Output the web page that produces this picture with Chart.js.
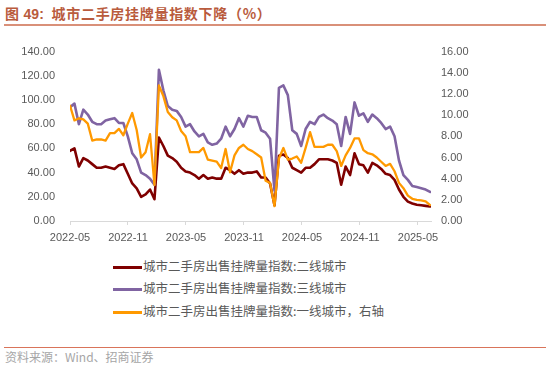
<!DOCTYPE html>
<html>
<head>
<meta charset="utf-8">
<script src="https://cdn.jsdelivr.net/npm/chart.js@4/dist/chart.umd.min.js"></script>
<style>
  html, body { margin:0; padding:0; background:#fff; }
  #wrap { position:relative; width:550px; height:379px; overflow:hidden; font-family:"Liberation Sans","Noto Sans CJK SC",sans-serif; }
  #title { position:absolute; left:5px; top:3px; height:20px; line-height:20px; font-size:14px; letter-spacing:0.7px; font-weight:bold; color:#B95B3D; font-family:"Noto Sans CJK SC",sans-serif; white-space:nowrap; }
  #title .num { font-family:"Liberation Sans",sans-serif; font-weight:bold; letter-spacing:0; }
  #tline { position:absolute; left:4px; width:542px; top:23.5px; height:2px; background:#D99079; }
  #cv { position:absolute; left:0; top:30px; }
  .leg { position:absolute; left:113px; height:20px; line-height:20px; font-size:12.5px; color:#595959; font-family:"Noto Sans CJK SC",sans-serif; white-space:nowrap; }
  .leg .ln { display:inline-block; width:29px; vertical-align:middle; margin-right:1px; }
  #sline { position:absolute; left:4px; width:542px; top:346.5px; height:1.5px; background:#D9745A; }
  #src { position:absolute; left:5px; top:347px; height:20px; line-height:20px; font-size:12px; color:#A6A6A6; font-family:"Noto Sans CJK SC",sans-serif; white-space:nowrap; }
</style>
</head>
<body>
<div id="wrap">
  <div id="title">图 <span class="num">49:</span>&nbsp; 城市二手房挂牌量指数下降（%）</div>
  <div id="tline"></div>
  <canvas id="cv" width="550" height="220" style="width:550px;height:220px;"></canvas>
  <div id="legend"></div>
  <div id="sline"></div>
  <div id="src">资料来源：Wind、招商证券</div>
</div>
<script>
// ---- data (biweekly observations starting 2022-05) ----
const startDate = "2022-05-01";
const stepDays = 14;

const seriesNames = [
  "城市二手房出售挂牌量指数:二线城市",
  "城市二手房出售挂牌量指数:三线城市",
  "城市二手房出售挂牌量指数:一线城市，右轴"
];

const tier2 = [58,60,45,52,50,47,44,44,45,44,43,46,47,39,31,27,20,22,26,18,69,62,54,52,49,44,41,40,38,35,38,35,36,35,35,44,42,39,42,39,40,40,41,36,36,31,13,54,55,52,44,42,40,44,44,47,51,51,51,50,48,30,45,38,56,47,46,40,48,46,43,39,38,34,26,20,16,14.5,13.5,13,12.5,12];

const tier3 = [94,97,80,92,88,82,80,80,83,84,85,81,81,70,56,51,40,38,35,30,125,108,95,92,91,86,78,80,74,70,72,65,63,64,68,78,70,76,85,78,87,86,86,75,73,68,25,110,112,104,75,72,62,76,82,80,86,88,85,83,80,62,86,72,98,87,89,82,88,85,81,76,78,70,50,38,34,29,28,27,26,24];

const tier1 = [10.9,9.5,9.7,9.6,9.2,7.6,7.7,7.7,7.6,8.3,8.3,8.7,8.1,9.2,10.2,8.6,6.0,6.5,8.2,3.4,12.8,11.8,10.3,9.8,9.5,8.5,8.0,6.5,6.5,6.5,6.9,5.8,5.7,5.6,5.0,6.8,4.6,6.2,6.9,7.2,6.8,6.6,6.3,6.0,3.8,3.6,1.4,5.9,6.9,5.8,5.9,6.1,5.5,6.9,8.4,7.0,7.0,7.0,7.2,7.2,6.6,5.2,6.2,6.9,7.8,7.8,6.7,6.4,6.3,6.0,5.6,5.2,5.4,4.7,3.6,3.1,2.4,2.1,2.0,1.95,1.85,1.5];

const xTickLabels = ["2022-05","2022-11","2023-05","2023-11","2024-05","2024-11","2025-05"];
const leftTicks = [0,20,40,60,80,100,120,140];
const rightTicks = [0,2,4,6,8,10,12,14,16];

const colors = ["#7F0000", "#8064A2", "#FF9900"];

// ---- build dates / x positions (months since 2022-05) ----
const t0 = new Date(startDate + "T00:00:00Z").getTime();
const dates = tier2.map((_, i) => new Date(t0 + i * stepDays * 86400000));
const monthsOf = d => (d.getTime() - t0) / (86400000 * 30.4375);
const pts = arr => arr.map((v, i) => ({ x: monthsOf(dates[i]), y: v }));

const tickFont = { family: "'Liberation Sans', sans-serif", size: 11 };
const tickColor = "#595959";

new Chart(document.getElementById("cv"), {
  type: "line",
  data: {
    datasets: [
      { label: seriesNames[0], data: pts(tier2), borderColor: colors[0], borderWidth: 2.6, yAxisID: "y", order: 2 },
      { label: seriesNames[1], data: pts(tier3), borderColor: colors[1], borderWidth: 2.6, yAxisID: "y", order: 1 },
      { label: seriesNames[2], data: pts(tier1), borderColor: colors[2], borderWidth: 2.3, yAxisID: "y1", order: 0 }
    ]
  },
  options: {
    responsive: false,
    animation: false,
    elements: { point: { radius: 0 }, line: { tension: 0, borderJoinStyle: "round", borderCapStyle: "round" } },
    layout: { padding: { top: 15, left: 0, right: 0, bottom: 0 } },
    plugins: { legend: { display: false }, tooltip: { enabled: false } },
    scales: {
      x: {
        type: "linear",
        position: "bottom",
        min: 0,
        max: 37.35,
        grid: { display: true, drawOnChartArea: false, drawTicks: true, tickLength: 4, color: "#D9D9D9" },
        border: { display: true, color: "#D9D9D9", width: 1 },
        afterBuildTicks: s => { s.ticks = xTickLabels.map((l, i) => ({ value: i * 6 })); },
        ticks: {
          autoSkip: false, maxRotation: 0, minRotation: 0, padding: 6,
          font: tickFont, color: tickColor,
          callback: (v, i) => xTickLabels[i]
        },
        afterFit: s => { s.height = 29; }
      },
      y: {
        position: "left",
        min: 0, max: 140,
        grid: { display: false, drawTicks: false },
        border: { display: false },
        afterBuildTicks: s => { s.ticks = leftTicks.map(v => ({ value: v })); },
        ticks: { padding: 15, font: tickFont, color: tickColor, callback: v => Number(v).toFixed(2) },
        afterFit: s => { s.width = 70; }
      },
      y1: {
        position: "right",
        min: 0, max: 16,
        grid: { display: false, drawTicks: false },
        border: { display: false },
        afterBuildTicks: s => { s.ticks = rightTicks.map(v => ({ value: v })); },
        ticks: { padding: 10, font: tickFont, color: tickColor, callback: v => Number(v).toFixed(2) },
        afterFit: s => { s.width = 119; }
      }
    }
  }
});

// ---- HTML legend ----
const legendTops = [255.7, 278.3, 301];
const lineWidths = [3, 3, 2.5];
const lg = document.getElementById("legend");
seriesNames.forEach((name, i) => {
  const row = document.createElement("div");
  row.className = "leg";
  row.style.top = legendTops[i] + "px";
  const ln = document.createElement("span");
  ln.className = "ln";
  ln.style.height = lineWidths[i] + "px";
  ln.style.background = colors[i];
  row.appendChild(ln);
  row.appendChild(document.createTextNode(name));
  lg.appendChild(row);
});
</script>
</body>
</html>
